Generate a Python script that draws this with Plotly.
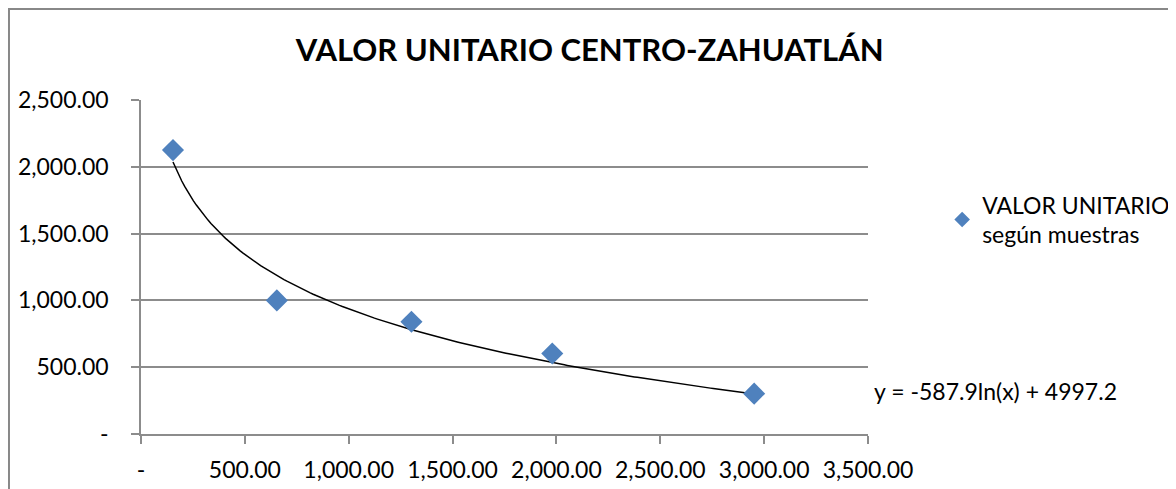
import numpy as np
import plotly.graph_objects as go

# sample points
area = [154, 654, 1302, 1980, 2952]
unit_value = [2125, 1000, 840, 602, 302]

# log trendline coefficients shown on the chart
trend_a = -587.9
trend_b = 4997.2

x_ticks = [0, 500, 1000, 1500, 2000, 2500, 3000, 3500]
x_labels = ["-", "500.00", "1,000.00", "1,500.00", "2,000.00", "2,500.00", "3,000.00", "3,500.00"]
y_ticks = [0, 500, 1000, 1500, 2000, 2500]
y_labels = ["-", "500.00", "1,000.00", "1,500.00", "2,000.00", "2,500.00"]

font = "Lato, Open Sans, sans-serif"
grid = "#8c8c8c"

trend_x = np.linspace(min(area), max(area), 200)
trend_y = trend_a * np.log(trend_x) + trend_b

fig = go.Figure()
fig.add_trace(go.Scatter(
    x=trend_x, y=trend_y, mode="lines",
    line=dict(color="black", width=1.5),
    showlegend=False, hoverinfo="skip",
))
fig.add_trace(go.Scatter(
    x=area, y=unit_value, mode="markers",
    name="VALOR UNITARIO<br>según muestras",
    marker=dict(symbol="diamond", size=17, color="#4F81BD"),
))

fig.add_annotation(
    text="y = -587.9ln(x) + 4997.2",
    xref="paper", yref="paper", x=1.005, y=0.129,
    xanchor="left", yanchor="middle", showarrow=False,
    font=dict(family=font, size=23, color="black"),
)

# outer chart frame (left and top edges show)
fig.add_shape(
    type="rect", xref="paper", yref="paper",
    x0=-0.1816, x1=1.6, y0=-0.6, y1=1.2725,
    line=dict(color="#888888", width=2), layer="below",
)

# page body adds 8px, so the figure is sized/margined to compensate
fig.update_layout(
    width=1168, height=481,
    margin=dict(l=133, r=308, t=92, b=55, autoexpand=False),
    paper_bgcolor="white", plot_bgcolor="white",
    font=dict(family=font, size=23, color="black"),
    title=dict(
        text="<b>VALOR UNITARIO CENTRO-ZAHUATLÁN</b>",
        x=0.498, xref="container", xanchor="center",
        y=0.913, yref="container", yanchor="middle",
        font=dict(family=font, size=31, color="black"),
    ),
    legend=dict(
        x=1.102, y=0.751, xanchor="left", yanchor="top",
        font=dict(family=font, size=23), itemsizing="constant",
        bgcolor="rgba(0,0,0,0)",
    ),
    xaxis=dict(
        range=[0, 3500], tickvals=x_ticks, ticktext=x_labels,
        showgrid=False, zeroline=False,
        showline=True, linecolor=grid, linewidth=1.5,
        ticks="outside", ticklen=8, tickcolor=grid, tickwidth=1.5,
        ticklabelstandoff=7,
    ),
    yaxis=dict(
        range=[0, 2500], tickvals=y_ticks, ticktext=y_labels,
        showgrid=True, gridcolor=grid, gridwidth=1.5, zeroline=False,
        showline=True, linecolor=grid, linewidth=1.5,
        ticks="outside", ticklen=8, tickcolor=grid, tickwidth=1.5,
        ticklabelstandoff=18,
    ),
)

fig.write_html("out.html")
